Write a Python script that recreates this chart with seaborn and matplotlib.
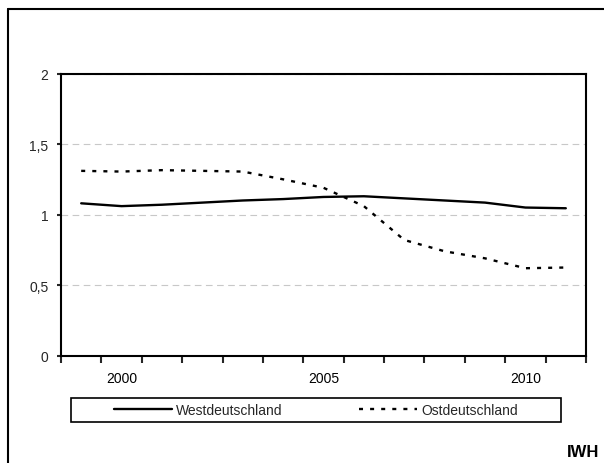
import numpy as np
import pandas as pd
import matplotlib
matplotlib.use("Agg")
import matplotlib.pyplot as plt
from matplotlib.lines import Line2D
from matplotlib.patches import Rectangle
import seaborn as sns

# Data
years = list(range(1999, 2012))
west = [1.08, 1.06, 1.07, 1.085, 1.10, 1.11, 1.125, 1.13, 1.115, 1.10, 1.085, 1.05, 1.045]
ost = [1.31, 1.305, 1.315, 1.31, 1.305, 1.25, 1.19, 1.06, 0.82, 0.74, 0.69, 0.62, 0.625]
regions = ["Westdeutschland", "Ostdeutschland"]
x_labels = [2000, 2005, 2010]
y_ticks = [0, 0.5, 1, 1.5, 2]
y_labels = ["0", "0,5", "1", "1,5", "2"]

df = pd.DataFrame({
    "Jahr": years * 2,
    "Wert": west + ost,
    "Region": [regions[0]] * len(years) + [regions[1]] * len(years),
})

sns.set_theme(style="white")
plt.rcParams["font.family"] = ["Liberation Sans", "DejaVu Sans"]
plt.rcParams["font.size"] = 10

fig = plt.figure(figsize=(6.04, 4.64), dpi=100)
W, H = 604, 464
ax = fig.add_axes([61 / W, 1 - 356.7 / H, (586 - 61) / W, (356.7 - 74.5) / H])

sns.lineplot(data=df, x="Jahr", y="Wert", style="Region", style_order=regions,
             dashes={"Westdeutschland": "", "Ostdeutschland": (1.7, 3.0)},
             color="black", linewidth=1.7, ax=ax)

handles, labels = ax.get_legend_handles_labels()
ax.get_legend().remove()

ax.set_xlim(1998.5, 2011.5)
ax.set_ylim(0, 2)
ax.set_xlabel("")
ax.set_ylabel("")

ax.set_xticks(x_labels)
ax.set_xticklabels([str(v) for v in x_labels], fontsize=10)
ax.set_xticks(np.arange(1998.5, 2012, 1), minor=True)
ax.tick_params(axis="x", which="major", length=0, pad=11, colors="black")
ax.tick_params(axis="x", which="minor", length=5, width=1.5, direction="out", bottom=True)

ax.set_yticks(y_ticks)
ax.set_yticklabels(y_labels, fontsize=10)
ax.tick_params(axis="y", which="major", length=3, width=1.5, direction="out", left=True, pad=6)

ax.set_axisbelow(True)
ax.yaxis.grid(True, color="#c8c8c8", linestyle=(0, (6, 4)), linewidth=0.8)
for s in ax.spines.values():
    s.set_visible(True)
    s.set_color("black")
    s.set_linewidth(1.5)

# legend box and legend
fig.add_artist(Rectangle((71 / W, 1 - 423 / H), (561 - 71) / W, 24 / H,
                         transform=fig.transFigure, fill=False,
                         edgecolor="black", linewidth=1.2))
fig.legend(handles, labels, loc="center", bbox_to_anchor=(316 / W, 1 - 411 / H),
           ncol=2, frameon=False, handlelength=4.2, handletextpad=0.3,
           columnspacing=5.5, fontsize=10, borderpad=0)

# outer frame (top and left only)
fig.add_artist(Line2D([8 / W, 1], [1 - 10 / H] * 2, transform=fig.transFigure,
                      color="black", linewidth=1.5))
fig.add_artist(Line2D([8 / W] * 2, [0, 1 - 10 / H], transform=fig.transFigure,
                      color="black", linewidth=1.5))

fig.text(599 / W, 1 - 453 / H, "IWH", ha="right", va="center",
         fontsize=12, fontweight="bold", color="black")

fig.savefig("out.png", dpi=100)
